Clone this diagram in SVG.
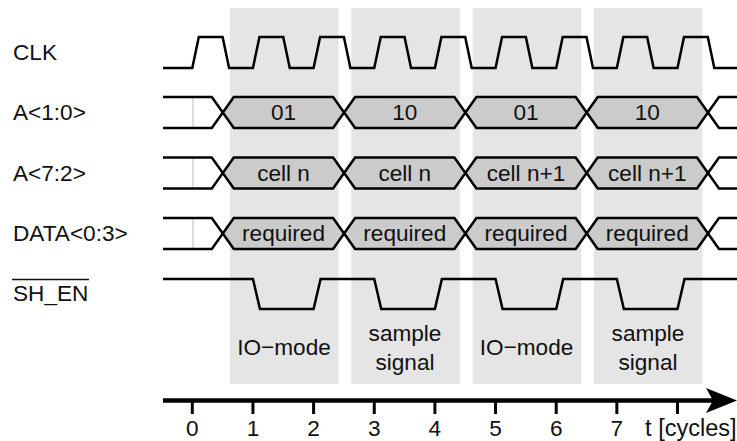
<svg xmlns="http://www.w3.org/2000/svg" width="737" height="441" viewBox="0 0 737 441">
<style>
text{font-family:"Liberation Sans",Arial,sans-serif;font-size:22.6px;fill:#111}
.c{text-anchor:middle}
.w{fill:none;stroke:#000;stroke-width:2.5;stroke-linejoin:miter}
.hex{fill:#cbcbcb;stroke:#000;stroke-width:2.5;stroke-linejoin:miter}
.band{fill:#e5e5e5}
.sep{stroke:#bbb;stroke-width:1}
.ax{stroke:#000;stroke-width:3}
</style>
<g id="bands">
<rect class="band" x="230" y="8" width="108.5" height="376"/>
<rect class="band" x="351.3" y="8" width="108.5" height="376"/>
<rect class="band" x="472.6" y="8" width="108.5" height="376"/>
<rect class="band" x="593.9" y="8" width="108.5" height="376"/>
</g>
<g id="labels">
<text x="13" y="60">CLK</text>
<text x="13" y="120">A&lt;1:0&gt;</text>
<text x="13" y="180.5">A&lt;7:2&gt;</text>
<text x="13" y="241">DATA&lt;0:3&gt;</text>
<text x="13" y="301">SH_EN</text>
<line x1="12" y1="279.5" x2="89" y2="279.5" stroke="#111" stroke-width="1.6"/>
</g>
<g id="clk">
<path class="w" d="M163,68 H192.3 L198.8,37 H222.6 L229.1,68 H252.95 L259.45,37 H283.25 L289.75,68 H313.6 L320.1,37 H343.9 L350.4,68 H374.25 L380.75,37 H404.55 L411.05,68 H434.9 L441.4,37 H465.2 L471.7,68 H495.55 L502.05,37 H525.85 L532.35,68 H556.2 L562.7,37 H586.5 L593,68 H616.85 L623.35,37 H647.15 L653.65,68 H677.5 L684,37 H707.8 L714.3,68 H737"/>
</g>
<g id="a10">
<line class="sep" x1="193" y1="97" x2="193" y2="128"/>
<path class="w" d="M163,97 H211.8 L222.8,112.5 L211.8,128 H163"/>
<polygon class="hex" points="222.8,112.5 233.8,97 333.1,97 344.1,112.5 333.1,128 233.8,128"/>
<polygon class="hex" points="344.1,112.5 355.1,97 454.4,97 465.4,112.5 454.4,128 355.1,128"/>
<polygon class="hex" points="465.4,112.5 476.4,97 575.7,97 586.7,112.5 575.7,128 476.4,128"/>
<polygon class="hex" points="586.7,112.5 597.7,97 697,97 708,112.5 697,128 597.7,128"/>
<path class="w" d="M737,97 H719 L708,112.5 L719,128 H737"/>
<text class="c" x="283.5" y="120">01</text>
<text class="c" x="404.8" y="120">10</text>
<text class="c" x="526" y="120">01</text>
<text class="c" x="647.3" y="120">10</text>
</g>
<g id="a72">
<line class="sep" x1="193" y1="157.5" x2="193" y2="188.5"/>
<path class="w" d="M163,157.5 H211.8 L222.8,173 L211.8,188.5 H163"/>
<polygon class="hex" points="222.8,173 233.8,157.5 333.1,157.5 344.1,173 333.1,188.5 233.8,188.5"/>
<polygon class="hex" points="344.1,173 355.1,157.5 454.4,157.5 465.4,173 454.4,188.5 355.1,188.5"/>
<polygon class="hex" points="465.4,173 476.4,157.5 575.7,157.5 586.7,173 575.7,188.5 476.4,188.5"/>
<polygon class="hex" points="586.7,173 597.7,157.5 697,157.5 708,173 697,188.5 597.7,188.5"/>
<path class="w" d="M737,157.5 H719 L708,173 L719,188.5 H737"/>
<text class="c" x="283.5" y="180.5">cell n</text>
<text class="c" x="404.8" y="180.5">cell n</text>
<text class="c" x="526" y="180.5">cell n+1</text>
<text class="c" x="647.3" y="180.5">cell n+1</text>
</g>
<g id="data">
<line class="sep" x1="193" y1="218" x2="193" y2="249"/>
<path class="w" d="M163,218 H211.8 L222.8,233.5 L211.8,249 H163"/>
<polygon class="hex" points="222.8,233.5 233.8,218 333.1,218 344.1,233.5 333.1,249 233.8,249"/>
<polygon class="hex" points="344.1,233.5 355.1,218 454.4,218 465.4,233.5 454.4,249 355.1,249"/>
<polygon class="hex" points="465.4,233.5 476.4,218 575.7,218 586.7,233.5 575.7,249 476.4,249"/>
<polygon class="hex" points="586.7,233.5 597.7,218 697,218 708,233.5 697,249 597.7,249"/>
<path class="w" d="M737,218 H719 L708,233.5 L719,249 H737"/>
<text class="c" x="283.5" y="241">required</text>
<text class="c" x="404.8" y="241">required</text>
<text class="c" x="526" y="241">required</text>
<text class="c" x="647.3" y="241">required</text>
</g>
<g id="shen">
<path class="w" d="M163,279 H252.95 L259.95,309 H313.6 L320.6,279 H374.25 L381.25,309 H434.9 L441.9,279 H495.55 L502.55,309 H556.2 L563.2,279 H616.85 L623.85,309 H677.5 L684.5,279 H737"/>
<text class="c" x="284" y="355">IO−mode</text>
<text class="c" x="405" y="341">sample</text>
<text class="c" x="405" y="370">signal</text>
<text class="c" x="526.5" y="355">IO−mode</text>
<text class="c" x="648" y="341">sample</text>
<text class="c" x="648" y="370">signal</text>
</g>
<g id="axis">
<line x1="163" y1="400.5" x2="714" y2="400.5" stroke="#000" stroke-width="4.5"/>
<polygon points="706,388 737,400.5 706,413 713,400.5" fill="#000"/>
<line class="ax" x1="192.3" y1="402" x2="192.3" y2="414"/>
<line class="ax" x1="252.95" y1="402" x2="252.95" y2="414"/>
<line class="ax" x1="313.6" y1="402" x2="313.6" y2="414"/>
<line class="ax" x1="374.25" y1="402" x2="374.25" y2="414"/>
<line class="ax" x1="434.9" y1="402" x2="434.9" y2="414"/>
<line class="ax" x1="495.55" y1="402" x2="495.55" y2="414"/>
<line class="ax" x1="556.2" y1="402" x2="556.2" y2="414"/>
<line class="ax" x1="616.85" y1="402" x2="616.85" y2="414"/>
<line class="ax" x1="677.5" y1="402" x2="677.5" y2="414"/>
<text class="c" x="192.3" y="436">0</text>
<text class="c" x="252.95" y="436">1</text>
<text class="c" x="313.6" y="436">2</text>
<text class="c" x="374.25" y="436">3</text>
<text class="c" x="434.9" y="436">4</text>
<text class="c" x="495.55" y="436">5</text>
<text class="c" x="556.2" y="436">6</text>
<text class="c" x="616.85" y="436">7</text>
<text x="736.5" y="436" text-anchor="end" style="font-size:23.5px">t [cycles]</text>
</g>
</svg>
